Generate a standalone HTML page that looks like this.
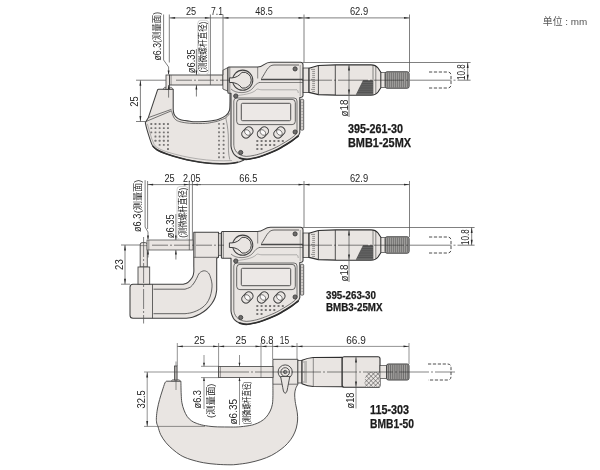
<!DOCTYPE html>
<html lang="zh"><head><meta charset="utf-8"><title>外形尺寸图</title>
<style>html,body{margin:0;padding:0;background:#fff;}svg{display:block;}</style></head>
<body>
<svg width="600" height="470" viewBox="0 0 600 470">
<rect width="600" height="470" fill="#fff"/>
<g opacity="0.999">
<text x="542.8" y="25.2" font-family='"Liberation Sans", "Noto Sans CJK SC", sans-serif' font-size="9.8" text-anchor="start" textLength="44.5" lengthAdjust="spacingAndGlyphs" fill="#555" >单位 : mm</text>
<path d="M158.6,89.3 L173.2,89.3 L173.2,109.5 C173.33,110.25 173.45,112.68 174.00,114.00 C174.55,115.32 175.50,116.48 176.50,117.40 C177.50,118.32 178.58,118.97 180.00,119.50 C181.42,120.03 183.33,120.30 185.00,120.60 C186.67,120.90 188.33,121.12 190.00,121.30 C191.67,121.48 192.50,121.65 195.00,121.70 C197.50,121.75 202.17,121.77 205.00,121.60 C207.83,121.43 209.72,121.10 212.00,120.70 C214.28,120.30 216.40,120.05 218.70,119.20 C221.00,118.35 224.02,117.05 225.80,115.60 C227.58,114.15 228.70,112.85 229.40,110.50 C230.10,108.15 229.90,103.00 230.00,101.50 L230,92.5 L233,92.5 L233,150 L244,160 C243.00,160.38 240.33,161.70 238.00,162.30 C235.67,162.90 233.00,163.37 230.00,163.60 C227.00,163.83 223.88,163.80 220.00,163.70 C216.12,163.60 211.15,163.45 206.70,163.00 C202.25,162.55 197.75,161.83 193.30,161.00 C188.85,160.17 184.43,159.17 180.00,158.00 C175.57,156.83 170.48,155.33 166.70,154.00 C162.92,152.67 159.63,151.33 157.30,150.00 C154.97,148.67 153.92,147.78 152.70,146.00 C151.48,144.22 151.00,142.18 150.00,139.30 C149.00,136.42 147.48,131.47 146.70,128.70 C145.92,125.93 145.53,123.70 145.30,122.70 L148.4,117.4 L157.4,90.3 Q157.8,89.3 158.6,89.3 Z" fill="#e9e5e2" stroke="#404040" stroke-width="1.05" stroke-linejoin="round" />
<path d="M238.00,162.30 C236.67,162.52 233.00,163.37 230.00,163.60 C227.00,163.83 223.88,163.80 220.00,163.70 C216.12,163.60 211.15,163.45 206.70,163.00 C202.25,162.55 197.75,161.83 193.30,161.00 C188.85,160.17 184.43,159.17 180.00,158.00 C175.57,156.83 170.48,155.33 166.70,154.00 C162.92,152.67 159.63,151.33 157.30,150.00 C154.97,148.67 153.47,146.67 152.70,146.00" fill="none" stroke="#333" stroke-width="1.5" stroke-linejoin="round" />
<path d="M148.4,117.6 L171.5,109.3" fill="none" stroke="#404040" stroke-width="0.7" stroke-linejoin="round" />
<path d="M146.2,121.4 L171.5,110.8 C171.72,111.50 172.30,113.72 172.80,115.00 C173.30,116.28 173.73,117.53 174.50,118.50 C175.27,119.47 175.98,120.15 177.40,120.80 C178.82,121.45 180.57,121.97 183.00,122.40 C185.43,122.83 188.27,123.23 192.00,123.40 C195.73,123.57 201.90,123.60 205.40,123.40 C208.90,123.20 210.78,122.63 213.00,122.20 C215.22,121.77 216.57,121.55 218.70,120.80 C220.83,120.05 223.98,118.92 225.80,117.70 C227.62,116.48 228.97,114.20 229.60,113.50" fill="none" stroke="#404040" stroke-width="0.7" stroke-linejoin="round" />
<path d="M147.3,123.8 L151.8,139 L154.3,144.8 C156,147.5 161,150 168,152.2 C185,157.5 210,162 232,160.5" fill="none" stroke="#777" stroke-width="0.5" stroke-linejoin="round" />
<polygon points="163,89.3 164.5,87.3 171.5,87.3 173,89.3" fill="#cfcbc8" stroke="#404040" stroke-width="0.6"/>
<rect x="150.35" y="123.05" width="1.9" height="1.9" rx="0.5" fill="#777574"/>
<rect x="150.35" y="127.22" width="1.9" height="1.9" rx="0.5" fill="#777574"/>
<rect x="150.35" y="131.39" width="1.9" height="1.9" rx="0.5" fill="#777574"/>
<rect x="154.52" y="123.05" width="1.9" height="1.9" rx="0.5" fill="#777574"/>
<rect x="154.52" y="127.22" width="1.9" height="1.9" rx="0.5" fill="#777574"/>
<rect x="154.52" y="131.39" width="1.9" height="1.9" rx="0.5" fill="#777574"/>
<rect x="154.52" y="135.56" width="1.9" height="1.9" rx="0.5" fill="#777574"/>
<rect x="154.52" y="139.73" width="1.9" height="1.9" rx="0.5" fill="#777574"/>
<rect x="158.69" y="123.05" width="1.9" height="1.9" rx="0.5" fill="#777574"/>
<rect x="158.69" y="127.22" width="1.9" height="1.9" rx="0.5" fill="#777574"/>
<rect x="158.69" y="131.39" width="1.9" height="1.9" rx="0.5" fill="#777574"/>
<rect x="158.69" y="135.56" width="1.9" height="1.9" rx="0.5" fill="#777574"/>
<rect x="158.69" y="139.73" width="1.9" height="1.9" rx="0.5" fill="#777574"/>
<rect x="158.69" y="143.90" width="1.9" height="1.9" rx="0.5" fill="#777574"/>
<rect x="162.86" y="123.05" width="1.9" height="1.9" rx="0.5" fill="#777574"/>
<rect x="162.86" y="127.22" width="1.9" height="1.9" rx="0.5" fill="#777574"/>
<rect x="162.86" y="131.39" width="1.9" height="1.9" rx="0.5" fill="#777574"/>
<rect x="162.86" y="135.56" width="1.9" height="1.9" rx="0.5" fill="#777574"/>
<rect x="162.86" y="139.73" width="1.9" height="1.9" rx="0.5" fill="#777574"/>
<rect x="162.86" y="143.90" width="1.9" height="1.9" rx="0.5" fill="#777574"/>
<rect x="167.03" y="123.05" width="1.9" height="1.9" rx="0.5" fill="#777574"/>
<rect x="167.03" y="127.22" width="1.9" height="1.9" rx="0.5" fill="#777574"/>
<rect x="167.03" y="131.39" width="1.9" height="1.9" rx="0.5" fill="#777574"/>
<rect x="167.03" y="135.56" width="1.9" height="1.9" rx="0.5" fill="#777574"/>
<rect x="167.03" y="139.73" width="1.9" height="1.9" rx="0.5" fill="#777574"/>
<rect x="167.03" y="143.90" width="1.9" height="1.9" rx="0.5" fill="#777574"/>
<rect x="167.03" y="148.07" width="1.9" height="1.9" rx="0.5" fill="#777574"/>
<rect x="218.10" y="123.00" width="1.8" height="1.8" rx="0.5" fill="#777574"/>
<rect x="222.70" y="123.00" width="1.8" height="1.8" rx="0.5" fill="#777574"/>
<rect x="218.10" y="127.17" width="1.8" height="1.8" rx="0.5" fill="#777574"/>
<rect x="222.70" y="127.17" width="1.8" height="1.8" rx="0.5" fill="#777574"/>
<rect x="218.10" y="131.34" width="1.8" height="1.8" rx="0.5" fill="#777574"/>
<rect x="222.70" y="131.34" width="1.8" height="1.8" rx="0.5" fill="#777574"/>
<rect x="218.10" y="135.51" width="1.8" height="1.8" rx="0.5" fill="#777574"/>
<rect x="222.70" y="135.51" width="1.8" height="1.8" rx="0.5" fill="#777574"/>
<rect x="218.10" y="139.68" width="1.8" height="1.8" rx="0.5" fill="#777574"/>
<rect x="222.70" y="139.68" width="1.8" height="1.8" rx="0.5" fill="#777574"/>
<rect x="218.10" y="143.85" width="1.8" height="1.8" rx="0.5" fill="#777574"/>
<rect x="222.70" y="143.85" width="1.8" height="1.8" rx="0.5" fill="#777574"/>
<rect x="218.10" y="148.02" width="1.8" height="1.8" rx="0.5" fill="#777574"/>
<rect x="222.70" y="148.02" width="1.8" height="1.8" rx="0.5" fill="#777574"/>
<rect x="218.10" y="152.19" width="1.8" height="1.8" rx="0.5" fill="#777574"/>
<rect x="222.70" y="152.19" width="1.8" height="1.8" rx="0.5" fill="#777574"/>
<rect x="218.10" y="156.36" width="1.8" height="1.8" rx="0.5" fill="#777574"/>
<rect x="222.70" y="156.36" width="1.8" height="1.8" rx="0.5" fill="#777574"/>
<path d="M225.8,118 C227.5,125 228.5,133 228.4,141 C228.3,148 228.3,154 229.8,159.6" fill="none" stroke="#666" stroke-width="0.6" stroke-linejoin="round" />
<rect x="166" y="75" width="3.5" height="14.5" rx="0" fill="#e9e5e2" stroke="#404040" stroke-width="0.8" />
<rect x="169.5" y="75" width="53.4" height="10" rx="0" fill="#e9e5e2" stroke="#404040" stroke-width="0.9" />
<line x1="171.1" y1="75" x2="171.1" y2="85" stroke="#404040" stroke-width="0.5"/>
<polygon points="222.9,70.2 227.9,67.6 227.9,91.2 222.9,89" fill="#e9e5e2" stroke="#404040" stroke-width="0.8"/>
<g transform="translate(0,0)">
<rect x="300.4" y="99.3" width="3.3" height="30.8" rx="1" fill="#d3cfcc" stroke="#404040" stroke-width="0.8" />
<line x1="301.2" y1="102.5" x2="303.2" y2="102.5" stroke="#777" stroke-width="0.4"/>
<line x1="301.2" y1="105.5" x2="303.2" y2="105.5" stroke="#777" stroke-width="0.4"/>
<line x1="301.2" y1="108.5" x2="303.2" y2="108.5" stroke="#777" stroke-width="0.4"/>
<line x1="301.2" y1="111.5" x2="303.2" y2="111.5" stroke="#777" stroke-width="0.4"/>
<line x1="301.2" y1="114.5" x2="303.2" y2="114.5" stroke="#777" stroke-width="0.4"/>
<line x1="301.2" y1="117.5" x2="303.2" y2="117.5" stroke="#777" stroke-width="0.4"/>
<line x1="301.2" y1="120.5" x2="303.2" y2="120.5" stroke="#777" stroke-width="0.4"/>
<line x1="301.2" y1="123.5" x2="303.2" y2="123.5" stroke="#777" stroke-width="0.4"/>
<line x1="301.2" y1="126.5" x2="303.2" y2="126.5" stroke="#777" stroke-width="0.4"/>
<path d="M227.9,68 Q227.9,67 228.9,67 L257.5,67 C264,67 264,62.2 270.5,62.2 L300.5,62.2 Q303,62.2 303,64.7 L303,95.5 Q303,97 301.5,97.2 L299.8,97.5 L299.8,132.5 C299.50,133.12 299.42,134.73 298.00,136.20 C296.58,137.67 293.83,139.57 291.30,141.30 C288.77,143.03 285.52,145.02 282.80,146.60 C280.08,148.18 278.25,149.32 275.00,150.80 C271.75,152.28 266.67,154.30 263.30,155.50 C259.93,156.70 257.63,157.37 254.80,158.00 C251.97,158.63 248.85,159.30 246.30,159.30 C243.75,159.30 241.48,158.77 239.50,158.00 C237.52,157.23 235.68,156.10 234.40,154.70 C233.12,153.30 232.37,151.05 231.80,149.60 C231.23,148.15 231.13,146.60 231.00,146.00 L231,93.3 L228.9,93.3 Q227.9,93.3 227.9,92.3 Z" fill="#e9e5e2" stroke="#404040" stroke-width="1.1" stroke-linejoin="round" />
<path d="M239.50,158.00 C240.63,158.22 243.75,159.30 246.30,159.30 C248.85,159.30 251.97,158.63 254.80,158.00 C257.63,157.37 259.93,156.70 263.30,155.50 C266.67,154.30 271.75,152.28 275.00,150.80 C278.25,149.32 280.08,148.18 282.80,146.60 C285.52,145.02 288.77,143.03 291.30,141.30 C293.83,139.57 296.88,137.05 298.00,136.20" fill="none" stroke="#2e2e2e" stroke-width="1.7" stroke-linejoin="round" stroke-linecap="round"/>
<line x1="229.8" y1="67" x2="229.8" y2="93.3" stroke="#404040" stroke-width="0.6"/>
<line x1="300.2" y1="65" x2="300.2" y2="96" stroke="#666" stroke-width="0.5"/>
<line x1="257.7" y1="67" x2="257.7" y2="78.5" stroke="#404040" stroke-width="0.6"/>
<path d="M299,65 L274,65 C268,65 266,72 261.5,78.6" fill="none" stroke="#404040" stroke-width="0.8" stroke-linejoin="round" />
<line x1="261" y1="79.5" x2="303" y2="79.5" stroke="#4a4a4a" stroke-width="1.5"/>
<line x1="259.5" y1="82.5" x2="303" y2="82.5" stroke="#404040" stroke-width="0.6"/>
<path d="M231,89 C236,94 248,94 253,88 C255,85 257,83 260,82.3" fill="none" stroke="#404040" stroke-width="0.6" stroke-linejoin="round" />
<path d="M233,96 C242,95 252,94 256,90 C258,88 258,89.8 262,89.8 L297,89.8 Q298,90 298.3,93" fill="none" stroke="#777" stroke-width="0.5" stroke-linejoin="round" />
<circle cx="242.7" cy="80.2" r="10.1" fill="#e9e5e2" stroke="#404040" stroke-width="1.05"/>
<path d="M229.4,77.9 L232,77.9 Q238.2,77.4 241.9,72.32 A8,8 0 1 1 241.9,88.08 Q238.2,83 232,82.5 L229.4,82.5 Z" fill="#e9e5e2" stroke="#404040" stroke-width="1.0" stroke-linejoin="round" />
<path d="M297,131.5 L297,101 Q297,98 294,98 L236.8,98 Q233.8,98 233.8,101 L233.8,145 C233.92,145.58 234.02,147.28 234.50,148.50 C234.98,149.72 235.67,151.22 236.70,152.30 C237.73,153.38 239.12,154.32 240.70,155.00 C242.28,155.68 243.93,156.35 246.20,156.40 C248.47,156.45 251.58,155.88 254.30,155.30 C257.02,154.72 259.22,154.07 262.50,152.90 C265.78,151.73 270.83,149.73 274.00,148.30 C277.17,146.87 278.87,145.82 281.50,144.30 C284.13,142.78 287.45,140.82 289.80,139.20 C292.15,137.58 294.40,135.88 295.60,134.60 C296.80,133.32 296.77,132.02 297.00,131.50" fill="none" stroke="#404040" stroke-width="0.7" stroke-linejoin="round" />
<rect x="236.7" y="99.4" width="58.6" height="25.2" rx="3.2" fill="#e9e5e2" stroke="#404040" stroke-width="0.8" />
<rect x="241.3" y="103.3" width="49.4" height="17.4" rx="1.3" fill="#ece8e6" stroke="#404040" stroke-width="0.9" />
<line x1="246.00" y1="133.9" x2="248.80" y2="131.1" stroke="#404040" stroke-width="9.2" stroke-linecap="round"/>
<line x1="246.00" y1="133.9" x2="248.80" y2="131.1" stroke="#e9e5e2" stroke-width="7.7" stroke-linecap="round"/>
<circle cx="247.4" cy="132.5" r="2.3" fill="#fbfafa"/>
<circle cx="246.0" cy="133.9" r="4.25" fill="none" stroke="#4a4a4a" stroke-width="0.7"/>
<circle cx="248.8" cy="131.1" r="4.25" fill="none" stroke="#4a4a4a" stroke-width="0.7"/>
<line x1="261.50" y1="133.9" x2="264.30" y2="131.1" stroke="#404040" stroke-width="9.2" stroke-linecap="round"/>
<line x1="261.50" y1="133.9" x2="264.30" y2="131.1" stroke="#e9e5e2" stroke-width="7.7" stroke-linecap="round"/>
<circle cx="262.9" cy="132.5" r="2.3" fill="#fbfafa"/>
<circle cx="261.5" cy="133.9" r="4.25" fill="none" stroke="#4a4a4a" stroke-width="0.7"/>
<circle cx="264.29999999999995" cy="131.1" r="4.25" fill="none" stroke="#4a4a4a" stroke-width="0.7"/>
<line x1="278.00" y1="133.9" x2="280.80" y2="131.1" stroke="#404040" stroke-width="9.2" stroke-linecap="round"/>
<line x1="278.00" y1="133.9" x2="280.80" y2="131.1" stroke="#e9e5e2" stroke-width="7.7" stroke-linecap="round"/>
<circle cx="279.4" cy="132.5" r="2.3" fill="#fbfafa"/>
<circle cx="278.0" cy="133.9" r="4.25" fill="none" stroke="#4a4a4a" stroke-width="0.7"/>
<circle cx="280.79999999999995" cy="131.1" r="4.25" fill="none" stroke="#4a4a4a" stroke-width="0.7"/>
<rect x="256.3" y="139.9" width="2" height="2" rx="0.5" fill="#777574"/>
<rect x="260.55" y="139.9" width="2" height="2" rx="0.5" fill="#777574"/>
<rect x="264.8" y="139.9" width="2" height="2" rx="0.5" fill="#777574"/>
<rect x="269.05" y="139.9" width="2" height="2" rx="0.5" fill="#777574"/>
<rect x="273.3" y="139.9" width="2" height="2" rx="0.5" fill="#777574"/>
<rect x="277.55" y="139.9" width="2" height="2" rx="0.5" fill="#777574"/>
<rect x="281.8" y="139.9" width="2" height="2" rx="0.5" fill="#777574"/>
<rect x="256.3" y="143.9" width="2" height="2" rx="0.5" fill="#777574"/>
<rect x="260.55" y="143.9" width="2" height="2" rx="0.5" fill="#777574"/>
<rect x="264.8" y="143.9" width="2" height="2" rx="0.5" fill="#777574"/>
<rect x="269.05" y="143.9" width="2" height="2" rx="0.5" fill="#777574"/>
<rect x="273.3" y="143.9" width="2" height="2" rx="0.5" fill="#777574"/>
<rect x="256.3" y="147.9" width="2" height="2" rx="0.5" fill="#777574"/>
<rect x="260.55" y="147.9" width="2" height="2" rx="0.5" fill="#777574"/>
<circle cx="295.1" cy="68.9" r="2.1" fill="#6e6c6b" stroke="#333" stroke-width="0.8"/>
<circle cx="235.8" cy="96" r="2.1" fill="#6e6c6b" stroke="#333" stroke-width="0.8"/>
<circle cx="295.1" cy="132" r="2.1" fill="#6e6c6b" stroke="#333" stroke-width="0.8"/>
<circle cx="240.7" cy="152.5" r="2.1" fill="#6e6c6b" stroke="#333" stroke-width="0.8"/>
</g>
<g transform="translate(0,0)">
<rect x="303.2" y="68" width="5.8" height="24.6" rx="0" fill="#e9e5e2" stroke="#404040" stroke-width="0.8" />
<path d="M309,68.2 L318.4,65.5 L336,64.9 L371,64.8 C375,64.8 376.5,66 378,68 L381,72.5 L381,87.5 L378,92 C376.5,94 375,95.2 371,95.2 L336,95.1 L318.4,94.6 L309,92.4 Z" fill="#e9e5e2" stroke="#2e2e2e" stroke-width="1.15" stroke-linejoin="round" />
<line x1="318.4" y1="65.5" x2="318.4" y2="94.6" stroke="#404040" stroke-width="0.9"/>
<line x1="335.3" y1="65" x2="335.3" y2="95" stroke="#404040" stroke-width="0.9"/>
<line x1="373" y1="65.2" x2="373" y2="94.8" stroke="#404040" stroke-width="0.6"/>
<line x1="375.8" y1="66" x2="375.8" y2="94" stroke="#404040" stroke-width="0.6"/>
<line x1="311" y1="69.4" x2="315" y2="69.4" stroke="#555" stroke-width="0.6"/>
<line x1="312.2" y1="71.4" x2="315" y2="71.4" stroke="#555" stroke-width="0.6"/>
<line x1="312.2" y1="73.4" x2="315" y2="73.4" stroke="#555" stroke-width="0.6"/>
<line x1="312.2" y1="75.4" x2="315" y2="75.4" stroke="#555" stroke-width="0.6"/>
<line x1="312.2" y1="77.4" x2="315" y2="77.4" stroke="#555" stroke-width="0.6"/>
<line x1="311" y1="79.4" x2="315" y2="79.4" stroke="#555" stroke-width="0.6"/>
<line x1="312.2" y1="81.4" x2="315" y2="81.4" stroke="#555" stroke-width="0.6"/>
<line x1="312.2" y1="83.4" x2="315" y2="83.4" stroke="#555" stroke-width="0.6"/>
<line x1="312.2" y1="85.4" x2="315" y2="85.4" stroke="#555" stroke-width="0.6"/>
<line x1="312.2" y1="87.4" x2="315" y2="87.4" stroke="#555" stroke-width="0.6"/>
<line x1="311" y1="89.4" x2="315" y2="89.4" stroke="#555" stroke-width="0.6"/>
<line x1="312.2" y1="91.4" x2="315" y2="91.4" stroke="#555" stroke-width="0.6"/>
<polygon points="355.8,94.8 363,80.3 373,80.3 373,94.8" fill="#4a4a4a"/>
<line x1="362.0" y1="82.3" x2="373" y2="82.3" stroke="#9a9a9a" stroke-width="0.45"/>
<line x1="361.05" y1="84.2" x2="373" y2="84.2" stroke="#9a9a9a" stroke-width="0.45"/>
<line x1="360.1" y1="86.1" x2="373" y2="86.1" stroke="#9a9a9a" stroke-width="0.45"/>
<line x1="359.15" y1="88.0" x2="373" y2="88.0" stroke="#9a9a9a" stroke-width="0.45"/>
<line x1="358.2" y1="89.89999999999999" x2="373" y2="89.89999999999999" stroke="#9a9a9a" stroke-width="0.45"/>
<line x1="357.25" y1="91.8" x2="373" y2="91.8" stroke="#9a9a9a" stroke-width="0.45"/>
<line x1="356.3" y1="93.69999999999999" x2="373" y2="93.69999999999999" stroke="#9a9a9a" stroke-width="0.45"/>
<rect x="381" y="72.6" width="4.2" height="14.8" rx="0" fill="#e9e5e2" stroke="#404040" stroke-width="0.7" />
<rect x="385.2" y="71.8" width="23.9" height="16.4" rx="1.8" fill="#aaa8a6" stroke="#404040" stroke-width="1.0" />
<line x1="387.3" y1="72.5" x2="387.3" y2="87.5" stroke="#5a5a5a" stroke-width="0.75"/>
<line x1="389.3" y1="72.5" x2="389.3" y2="87.5" stroke="#5a5a5a" stroke-width="0.75"/>
<line x1="391.3" y1="72.5" x2="391.3" y2="87.5" stroke="#5a5a5a" stroke-width="0.75"/>
<line x1="393.3" y1="72.5" x2="393.3" y2="87.5" stroke="#5a5a5a" stroke-width="0.75"/>
<line x1="395.3" y1="72.5" x2="395.3" y2="87.5" stroke="#5a5a5a" stroke-width="0.75"/>
<line x1="397.3" y1="72.5" x2="397.3" y2="87.5" stroke="#5a5a5a" stroke-width="0.75"/>
<line x1="399.3" y1="72.5" x2="399.3" y2="87.5" stroke="#5a5a5a" stroke-width="0.75"/>
<line x1="401.3" y1="72.5" x2="401.3" y2="87.5" stroke="#5a5a5a" stroke-width="0.75"/>
<line x1="403.3" y1="72.5" x2="403.3" y2="87.5" stroke="#5a5a5a" stroke-width="0.75"/>
<line x1="405.3" y1="72.5" x2="405.3" y2="87.5" stroke="#5a5a5a" stroke-width="0.75"/>
<line x1="407.3" y1="72.5" x2="407.3" y2="87.5" stroke="#5a5a5a" stroke-width="0.75"/>
</g>
<g transform="translate(0,0)">
<line x1="303" y1="62.5" x2="470.6" y2="62.5" stroke="#555" stroke-width="0.75"/>
<line x1="409.5" y1="80.2" x2="470.6" y2="80.2" stroke="#3a3a3a" stroke-width="0.65" stroke-dasharray="42 2 2 2 100 0"/>
<path d="M429,72 L447.5,72 Q451,72 451,75.5 L451,84.5 Q451,88 447.5,88 L429,88" fill="none" stroke="#383838" stroke-width="0.9" stroke-linejoin="round" stroke-dasharray="3.2 1.7"/>
<line x1="467.7" y1="62.5" x2="467.7" y2="80.2" stroke="#555" stroke-width="0.75"/>
<polygon points="467.70,62.50 466.75,68.00 468.65,68.00" fill="#2a2a2a"/>
<polygon points="467.70,80.20 466.75,74.70 468.65,74.70" fill="#2a2a2a"/>
<text transform="translate(465,72.2) rotate(-90)" font-family='"Liberation Sans", "Noto Sans CJK SC", sans-serif' font-size="11.2" text-anchor="middle" textLength="15.6" lengthAdjust="spacingAndGlyphs" fill="#262626" >10.8</text>
<line x1="349" y1="65" x2="349" y2="117" stroke="#555" stroke-width="0.75"/>
<polygon points="349.00,65.00 348.05,70.50 349.95,70.50" fill="#2a2a2a"/>
<polygon points="349.00,95.00 348.05,89.50 349.95,89.50" fill="#2a2a2a"/>
<text transform="translate(347.6,108) rotate(-90)" font-family='"Liberation Sans", "Noto Sans CJK SC", sans-serif' font-size="11.2" text-anchor="middle" textLength="17" lengthAdjust="spacingAndGlyphs" fill="#262626" >ø18</text>
</g>
<line x1="176" y1="80.2" x2="230" y2="80.2" stroke="#333" stroke-width="0.6" stroke-dasharray="16 2 2 2"/>
<line x1="302" y1="80.2" x2="410" y2="80.2" stroke="#333" stroke-width="0.6" stroke-dasharray="30 2 2 2"/>
<line x1="210.4" y1="14.5" x2="210.4" y2="85" stroke="#555" stroke-width="0.75"/>
<line x1="223" y1="14.5" x2="223" y2="75" stroke="#555" stroke-width="0.75"/>
<line x1="304" y1="14.5" x2="304" y2="62" stroke="#555" stroke-width="0.75"/>
<line x1="409.5" y1="14.5" x2="409.5" y2="72" stroke="#555" stroke-width="0.75"/>
<path d="M163.6,14.5 L163.6,60 L168.6,67 L168.6,74" fill="none" stroke="#555" stroke-width="0.75" stroke-linejoin="round" />
<polygon points="168.60,75.00 167.65,70.50 169.55,70.50" fill="#2a2a2a"/>
<line x1="169.3" y1="14.5" x2="169.3" y2="62.5" stroke="#555" stroke-width="0.75"/>
<line x1="168.6" y1="85" x2="168.6" y2="97.6" stroke="#555" stroke-width="0.75"/>
<polygon points="168.60,85.00 167.65,89.50 169.55,89.50" fill="#2a2a2a"/>
<line x1="169.6" y1="17.9" x2="210.4" y2="17.9" stroke="#555" stroke-width="0.75"/>
<polygon points="169.60,17.90 175.10,16.95 175.10,18.85" fill="#2a2a2a"/>
<polygon points="210.40,17.90 204.90,16.95 204.90,18.85" fill="#2a2a2a"/>
<line x1="223" y1="17.9" x2="304" y2="17.9" stroke="#555" stroke-width="0.75"/>
<polygon points="223.00,17.90 228.50,16.95 228.50,18.85" fill="#2a2a2a"/>
<polygon points="304.00,17.90 298.50,16.95 298.50,18.85" fill="#2a2a2a"/>
<line x1="304" y1="17.9" x2="409.5" y2="17.9" stroke="#555" stroke-width="0.75"/>
<polygon points="304.00,17.90 309.50,16.95 309.50,18.85" fill="#2a2a2a"/>
<polygon points="409.50,17.90 404.00,16.95 404.00,18.85" fill="#2a2a2a"/>
<line x1="210.4" y1="17.9" x2="223" y2="17.9" stroke="#555" stroke-width="0.75"/>
<text x="191" y="15.2" font-family='"Liberation Sans", "Noto Sans CJK SC", sans-serif' font-size="11.2" text-anchor="middle" textLength="10.2" lengthAdjust="spacingAndGlyphs" fill="#262626" >25</text>
<text x="217" y="15.2" font-family='"Liberation Sans", "Noto Sans CJK SC", sans-serif' font-size="11.2" text-anchor="middle" textLength="12" lengthAdjust="spacingAndGlyphs" fill="#262626" >7.1</text>
<text x="264" y="15.2" font-family='"Liberation Sans", "Noto Sans CJK SC", sans-serif' font-size="11.2" text-anchor="middle" textLength="17.6" lengthAdjust="spacingAndGlyphs" fill="#262626" >48.5</text>
<text x="359" y="15.2" font-family='"Liberation Sans", "Noto Sans CJK SC", sans-serif' font-size="11.2" text-anchor="middle" textLength="18.2" lengthAdjust="spacingAndGlyphs" fill="#262626" >62.9</text>
<text transform="translate(161.2,60.5) rotate(-90)" font-family='"Liberation Sans", "Noto Sans CJK SC", sans-serif' font-size="11.2" text-anchor="start" textLength="17.5" lengthAdjust="spacingAndGlyphs" fill="#262626" >ø6.3</text>
<text transform="translate(160.2,43) rotate(-90)" font-family='"Liberation Sans", "Noto Sans CJK SC", sans-serif' font-size="8.8" text-anchor="start" textLength="31" lengthAdjust="spacingAndGlyphs" fill="#262626" >(测量面)</text>
<text transform="translate(195.2,73.3) rotate(-90)" font-family='"Liberation Sans", "Noto Sans CJK SC", sans-serif' font-size="11.2" text-anchor="start" textLength="24" lengthAdjust="spacingAndGlyphs" fill="#262626" >ø6.35</text>
<line x1="196.4" y1="49" x2="196.4" y2="75" stroke="#555" stroke-width="0.75"/>
<polygon points="196.40,75.00 195.45,70.50 197.35,70.50" fill="#2a2a2a"/>
<line x1="196.4" y1="85" x2="196.4" y2="96.5" stroke="#555" stroke-width="0.75"/>
<polygon points="196.40,85.00 195.45,89.50 197.35,89.50" fill="#2a2a2a"/>
<rect x="197.8" y="20.3" width="10.8" height="54" rx="3" fill="#fff" stroke="#aaa" stroke-width="0.5" />
<text transform="translate(206.2,72.6) rotate(-90)" font-family='"Liberation Sans", "Noto Sans CJK SC", sans-serif' font-size="9" text-anchor="start" textLength="51" lengthAdjust="spacingAndGlyphs" fill="#262626" >(测微螺杆直径)</text>
<line x1="136" y1="80.2" x2="166" y2="80.2" stroke="#555" stroke-width="0.75"/>
<line x1="136" y1="121.5" x2="146" y2="121.5" stroke="#555" stroke-width="0.75"/>
<line x1="140.4" y1="80.2" x2="140.4" y2="121.5" stroke="#555" stroke-width="0.75"/>
<polygon points="140.40,80.20 139.45,85.70 141.35,85.70" fill="#2a2a2a"/>
<polygon points="140.40,121.50 139.45,116.00 141.35,116.00" fill="#2a2a2a"/>
<text transform="translate(138.1,101.6) rotate(-90)" font-family='"Liberation Sans", "Noto Sans CJK SC", sans-serif' font-size="11.2" text-anchor="middle" textLength="10.4" lengthAdjust="spacingAndGlyphs" fill="#262626" >25</text>
<text x="348" y="133.2" font-family='"Liberation Sans", "Noto Sans CJK SC", sans-serif' font-size="12" text-anchor="start" font-weight="bold" textLength="55" lengthAdjust="spacingAndGlyphs" fill="#1a1a1a" stroke="#1a1a1a" stroke-width="0.25">395-261-30</text>
<text x="348" y="146.5" font-family='"Liberation Sans", "Noto Sans CJK SC", sans-serif' font-size="12" text-anchor="start" font-weight="bold" textLength="63" lengthAdjust="spacingAndGlyphs" fill="#1a1a1a" stroke="#1a1a1a" stroke-width="0.25">BMB1-25MX</text>
<path d="M193.8,232.3 L218.5,232.3 L218.5,257.3 L216.7,258.3 L216.7,290 C216.47,291.17 216.13,294.70 215.30,297.00 C214.47,299.30 213.17,301.72 211.70,303.80 C210.23,305.88 208.45,307.80 206.50,309.50 C204.55,311.20 202.33,312.72 200.00,314.00 C197.67,315.28 195.00,316.48 192.50,317.20 C190.00,317.92 186.25,318.12 185.00,318.30 L133,318.3 Q130,318.3 130,315.3 L130,287.2 Q130,284.2 133,284.2 L183.3,284.2 C183.92,284.00 185.88,283.65 187.00,283.00 C188.12,282.35 189.07,281.33 190.00,280.30 C190.93,279.27 191.97,278.18 192.60,276.80 C193.23,275.42 193.60,273.80 193.80,272.00 C194.00,270.20 193.80,267.00 193.80,266.00 Z" fill="#e9e5e2" stroke="#404040" stroke-width="1.05" stroke-linejoin="round" />
<path d="M153.5,289.2 L185,289.2 C185.92,288.83 189.00,288.03 190.50,287.00 C192.00,285.97 192.97,284.45 194.00,283.00 C195.03,281.55 195.78,279.97 196.70,278.30 C197.62,276.63 198.25,274.25 199.50,273.00 C200.75,271.75 202.70,270.80 204.20,270.80 C205.70,270.80 207.40,271.75 208.50,273.00 C209.60,274.25 210.22,276.47 210.80,278.30 C211.38,280.13 211.85,282.05 212.00,284.00 C212.15,285.95 212.03,287.83 211.70,290.00 C211.37,292.17 210.83,294.78 210.00,297.00 C209.17,299.22 208.03,301.50 206.70,303.30 C205.37,305.10 203.67,306.55 202.00,307.80 C200.33,309.05 198.53,309.97 196.70,310.80 C194.87,311.63 192.95,312.32 191.00,312.80 C189.05,313.28 186.00,313.55 185.00,313.70 L153.5,313.7" fill="none" stroke="#404040" stroke-width="0.8" stroke-linejoin="round" />
<line x1="152.5" y1="284.2" x2="152.5" y2="318.3" stroke="#404040" stroke-width="0.8"/>
<line x1="193.8" y1="257.3" x2="218.5" y2="257.3" stroke="#404040" stroke-width="0.7"/>
<line x1="195.2" y1="232.3" x2="195.2" y2="257.3" stroke="#404040" stroke-width="0.5"/>
<path d="M140.2,267 L140.2,244.6 Q140.2,242.6 142.2,242.6 L145.3,242.6 Q147.3,242.6 147.3,244.6 L147.3,267 Z" fill="#e9e5e2" stroke="#404040" stroke-width="0.85" stroke-linejoin="round" />
<line x1="140.2" y1="245.6" x2="147.3" y2="245.6" stroke="#404040" stroke-width="0.5"/>
<rect x="138" y="267" width="11.7" height="17.2" rx="0" fill="#e9e5e2" stroke="#404040" stroke-width="0.85" />
<line x1="143.6" y1="237" x2="143.6" y2="323.5" stroke="#555" stroke-width="0.75" stroke-dasharray="20 2 2 2"/>
<rect x="147" y="240" width="46" height="10" rx="0" fill="#e9e5e2" stroke="#404040" stroke-width="0.7" />
<line x1="148.8" y1="240" x2="148.8" y2="250" stroke="#404040" stroke-width="0.5"/>
<rect x="218.4" y="233.3" width="3.2" height="22" rx="0" fill="#d5d1ce" stroke="#404040" stroke-width="0.7" />
<g transform="translate(0,165)">
<rect x="300.4" y="99.3" width="3.3" height="30.8" rx="1" fill="#d3cfcc" stroke="#404040" stroke-width="0.8" />
<line x1="301.2" y1="102.5" x2="303.2" y2="102.5" stroke="#777" stroke-width="0.4"/>
<line x1="301.2" y1="105.5" x2="303.2" y2="105.5" stroke="#777" stroke-width="0.4"/>
<line x1="301.2" y1="108.5" x2="303.2" y2="108.5" stroke="#777" stroke-width="0.4"/>
<line x1="301.2" y1="111.5" x2="303.2" y2="111.5" stroke="#777" stroke-width="0.4"/>
<line x1="301.2" y1="114.5" x2="303.2" y2="114.5" stroke="#777" stroke-width="0.4"/>
<line x1="301.2" y1="117.5" x2="303.2" y2="117.5" stroke="#777" stroke-width="0.4"/>
<line x1="301.2" y1="120.5" x2="303.2" y2="120.5" stroke="#777" stroke-width="0.4"/>
<line x1="301.2" y1="123.5" x2="303.2" y2="123.5" stroke="#777" stroke-width="0.4"/>
<line x1="301.2" y1="126.5" x2="303.2" y2="126.5" stroke="#777" stroke-width="0.4"/>
<path d="M221.4,67.5 Q221.4,66.5 222.4,66.5 L257.5,66.5 C264,66.5 264,62.2 270.5,62.2 L300.5,62.2 Q303,62.2 303,64.7 L303,95.5 Q303,97 301.5,97.2 L299.8,97.5 L299.8,132.5 C299.50,133.12 299.42,134.73 298.00,136.20 C296.58,137.67 293.83,139.57 291.30,141.30 C288.77,143.03 285.52,145.02 282.80,146.60 C280.08,148.18 278.25,149.32 275.00,150.80 C271.75,152.28 266.67,154.30 263.30,155.50 C259.93,156.70 257.63,157.37 254.80,158.00 C251.97,158.63 248.85,159.30 246.30,159.30 C243.75,159.30 241.48,158.77 239.50,158.00 C237.52,157.23 235.68,156.10 234.40,154.70 C233.12,153.30 232.37,151.05 231.80,149.60 C231.23,148.15 231.13,146.60 231.00,146.00 L231,93.3 L222.4,93.3 Q221.4,93.3 221.4,92.3 Z" fill="#e9e5e2" stroke="#404040" stroke-width="1.1" stroke-linejoin="round" />
<path d="M239.50,158.00 C240.63,158.22 243.75,159.30 246.30,159.30 C248.85,159.30 251.97,158.63 254.80,158.00 C257.63,157.37 259.93,156.70 263.30,155.50 C266.67,154.30 271.75,152.28 275.00,150.80 C278.25,149.32 280.08,148.18 282.80,146.60 C285.52,145.02 288.77,143.03 291.30,141.30 C293.83,139.57 296.88,137.05 298.00,136.20" fill="none" stroke="#2e2e2e" stroke-width="1.7" stroke-linejoin="round" stroke-linecap="round"/>
<line x1="223.3" y1="66.5" x2="223.3" y2="93.3" stroke="#404040" stroke-width="0.6"/>
<line x1="300.2" y1="65" x2="300.2" y2="96" stroke="#666" stroke-width="0.5"/>
<line x1="257.7" y1="66.5" x2="257.7" y2="78.5" stroke="#404040" stroke-width="0.6"/>
<path d="M299,65 L274,65 C268,65 266,72 261.5,78.6" fill="none" stroke="#404040" stroke-width="0.8" stroke-linejoin="round" />
<line x1="261" y1="79.5" x2="303" y2="79.5" stroke="#4a4a4a" stroke-width="1.5"/>
<line x1="259.5" y1="82.5" x2="303" y2="82.5" stroke="#404040" stroke-width="0.6"/>
<path d="M231,89 C236,94 248,94 253,88 C255,85 257,83 260,82.3" fill="none" stroke="#404040" stroke-width="0.6" stroke-linejoin="round" />
<path d="M233,96 C242,95 252,94 256,90 C258,88 258,89.8 262,89.8 L297,89.8 Q298,90 298.3,93" fill="none" stroke="#777" stroke-width="0.5" stroke-linejoin="round" />
<circle cx="242.7" cy="80.2" r="10.1" fill="#e9e5e2" stroke="#404040" stroke-width="1.05"/>
<path d="M229.4,77.9 L232,77.9 Q238.2,77.4 241.9,72.32 A8,8 0 1 1 241.9,88.08 Q238.2,83 232,82.5 L229.4,82.5 Z" fill="#e9e5e2" stroke="#404040" stroke-width="1.0" stroke-linejoin="round" />
<path d="M297,131.5 L297,101 Q297,98 294,98 L236.8,98 Q233.8,98 233.8,101 L233.8,145 C233.92,145.58 234.02,147.28 234.50,148.50 C234.98,149.72 235.67,151.22 236.70,152.30 C237.73,153.38 239.12,154.32 240.70,155.00 C242.28,155.68 243.93,156.35 246.20,156.40 C248.47,156.45 251.58,155.88 254.30,155.30 C257.02,154.72 259.22,154.07 262.50,152.90 C265.78,151.73 270.83,149.73 274.00,148.30 C277.17,146.87 278.87,145.82 281.50,144.30 C284.13,142.78 287.45,140.82 289.80,139.20 C292.15,137.58 294.40,135.88 295.60,134.60 C296.80,133.32 296.77,132.02 297.00,131.50" fill="none" stroke="#404040" stroke-width="0.7" stroke-linejoin="round" />
<rect x="236.7" y="99.4" width="58.6" height="25.2" rx="3.2" fill="#e9e5e2" stroke="#404040" stroke-width="0.8" />
<rect x="241.3" y="103.3" width="49.4" height="17.4" rx="1.3" fill="#ece8e6" stroke="#404040" stroke-width="0.9" />
<line x1="246.00" y1="133.9" x2="248.80" y2="131.1" stroke="#404040" stroke-width="9.2" stroke-linecap="round"/>
<line x1="246.00" y1="133.9" x2="248.80" y2="131.1" stroke="#e9e5e2" stroke-width="7.7" stroke-linecap="round"/>
<circle cx="247.4" cy="132.5" r="2.3" fill="#fbfafa"/>
<circle cx="246.0" cy="133.9" r="4.25" fill="none" stroke="#4a4a4a" stroke-width="0.7"/>
<circle cx="248.8" cy="131.1" r="4.25" fill="none" stroke="#4a4a4a" stroke-width="0.7"/>
<line x1="261.50" y1="133.9" x2="264.30" y2="131.1" stroke="#404040" stroke-width="9.2" stroke-linecap="round"/>
<line x1="261.50" y1="133.9" x2="264.30" y2="131.1" stroke="#e9e5e2" stroke-width="7.7" stroke-linecap="round"/>
<circle cx="262.9" cy="132.5" r="2.3" fill="#fbfafa"/>
<circle cx="261.5" cy="133.9" r="4.25" fill="none" stroke="#4a4a4a" stroke-width="0.7"/>
<circle cx="264.29999999999995" cy="131.1" r="4.25" fill="none" stroke="#4a4a4a" stroke-width="0.7"/>
<line x1="278.00" y1="133.9" x2="280.80" y2="131.1" stroke="#404040" stroke-width="9.2" stroke-linecap="round"/>
<line x1="278.00" y1="133.9" x2="280.80" y2="131.1" stroke="#e9e5e2" stroke-width="7.7" stroke-linecap="round"/>
<circle cx="279.4" cy="132.5" r="2.3" fill="#fbfafa"/>
<circle cx="278.0" cy="133.9" r="4.25" fill="none" stroke="#4a4a4a" stroke-width="0.7"/>
<circle cx="280.79999999999995" cy="131.1" r="4.25" fill="none" stroke="#4a4a4a" stroke-width="0.7"/>
<rect x="256.3" y="139.9" width="2" height="2" rx="0.5" fill="#777574"/>
<rect x="260.55" y="139.9" width="2" height="2" rx="0.5" fill="#777574"/>
<rect x="264.8" y="139.9" width="2" height="2" rx="0.5" fill="#777574"/>
<rect x="269.05" y="139.9" width="2" height="2" rx="0.5" fill="#777574"/>
<rect x="273.3" y="139.9" width="2" height="2" rx="0.5" fill="#777574"/>
<rect x="277.55" y="139.9" width="2" height="2" rx="0.5" fill="#777574"/>
<rect x="281.8" y="139.9" width="2" height="2" rx="0.5" fill="#777574"/>
<rect x="256.3" y="143.9" width="2" height="2" rx="0.5" fill="#777574"/>
<rect x="260.55" y="143.9" width="2" height="2" rx="0.5" fill="#777574"/>
<rect x="264.8" y="143.9" width="2" height="2" rx="0.5" fill="#777574"/>
<rect x="269.05" y="143.9" width="2" height="2" rx="0.5" fill="#777574"/>
<rect x="273.3" y="143.9" width="2" height="2" rx="0.5" fill="#777574"/>
<rect x="256.3" y="147.9" width="2" height="2" rx="0.5" fill="#777574"/>
<rect x="260.55" y="147.9" width="2" height="2" rx="0.5" fill="#777574"/>
<circle cx="295.1" cy="68.9" r="2.1" fill="#6e6c6b" stroke="#333" stroke-width="0.8"/>
<circle cx="235.8" cy="96" r="2.1" fill="#6e6c6b" stroke="#333" stroke-width="0.8"/>
<circle cx="295.1" cy="132" r="2.1" fill="#6e6c6b" stroke="#333" stroke-width="0.8"/>
<circle cx="240.7" cy="152.5" r="2.1" fill="#6e6c6b" stroke="#333" stroke-width="0.8"/>
</g>
<g transform="translate(0,165)">
<rect x="303.2" y="68" width="5.8" height="24.6" rx="0" fill="#e9e5e2" stroke="#404040" stroke-width="0.8" />
<path d="M309,68.2 L318.4,65.5 L336,64.9 L371,64.8 C375,64.8 376.5,66 378,68 L381,72.5 L381,87.5 L378,92 C376.5,94 375,95.2 371,95.2 L336,95.1 L318.4,94.6 L309,92.4 Z" fill="#e9e5e2" stroke="#2e2e2e" stroke-width="1.15" stroke-linejoin="round" />
<line x1="318.4" y1="65.5" x2="318.4" y2="94.6" stroke="#404040" stroke-width="0.9"/>
<line x1="335.3" y1="65" x2="335.3" y2="95" stroke="#404040" stroke-width="0.9"/>
<line x1="373" y1="65.2" x2="373" y2="94.8" stroke="#404040" stroke-width="0.6"/>
<line x1="375.8" y1="66" x2="375.8" y2="94" stroke="#404040" stroke-width="0.6"/>
<line x1="311" y1="69.4" x2="315" y2="69.4" stroke="#555" stroke-width="0.6"/>
<line x1="312.2" y1="71.4" x2="315" y2="71.4" stroke="#555" stroke-width="0.6"/>
<line x1="312.2" y1="73.4" x2="315" y2="73.4" stroke="#555" stroke-width="0.6"/>
<line x1="312.2" y1="75.4" x2="315" y2="75.4" stroke="#555" stroke-width="0.6"/>
<line x1="312.2" y1="77.4" x2="315" y2="77.4" stroke="#555" stroke-width="0.6"/>
<line x1="311" y1="79.4" x2="315" y2="79.4" stroke="#555" stroke-width="0.6"/>
<line x1="312.2" y1="81.4" x2="315" y2="81.4" stroke="#555" stroke-width="0.6"/>
<line x1="312.2" y1="83.4" x2="315" y2="83.4" stroke="#555" stroke-width="0.6"/>
<line x1="312.2" y1="85.4" x2="315" y2="85.4" stroke="#555" stroke-width="0.6"/>
<line x1="312.2" y1="87.4" x2="315" y2="87.4" stroke="#555" stroke-width="0.6"/>
<line x1="311" y1="89.4" x2="315" y2="89.4" stroke="#555" stroke-width="0.6"/>
<line x1="312.2" y1="91.4" x2="315" y2="91.4" stroke="#555" stroke-width="0.6"/>
<polygon points="355.8,94.8 363,80.3 373,80.3 373,94.8" fill="#4a4a4a"/>
<line x1="362.0" y1="82.3" x2="373" y2="82.3" stroke="#9a9a9a" stroke-width="0.45"/>
<line x1="361.05" y1="84.2" x2="373" y2="84.2" stroke="#9a9a9a" stroke-width="0.45"/>
<line x1="360.1" y1="86.1" x2="373" y2="86.1" stroke="#9a9a9a" stroke-width="0.45"/>
<line x1="359.15" y1="88.0" x2="373" y2="88.0" stroke="#9a9a9a" stroke-width="0.45"/>
<line x1="358.2" y1="89.89999999999999" x2="373" y2="89.89999999999999" stroke="#9a9a9a" stroke-width="0.45"/>
<line x1="357.25" y1="91.8" x2="373" y2="91.8" stroke="#9a9a9a" stroke-width="0.45"/>
<line x1="356.3" y1="93.69999999999999" x2="373" y2="93.69999999999999" stroke="#9a9a9a" stroke-width="0.45"/>
<rect x="381" y="72.6" width="4.2" height="14.8" rx="0" fill="#e9e5e2" stroke="#404040" stroke-width="0.7" />
<rect x="385.2" y="71.8" width="23.9" height="16.4" rx="1.8" fill="#aaa8a6" stroke="#404040" stroke-width="1.0" />
<line x1="387.3" y1="72.5" x2="387.3" y2="87.5" stroke="#5a5a5a" stroke-width="0.75"/>
<line x1="389.3" y1="72.5" x2="389.3" y2="87.5" stroke="#5a5a5a" stroke-width="0.75"/>
<line x1="391.3" y1="72.5" x2="391.3" y2="87.5" stroke="#5a5a5a" stroke-width="0.75"/>
<line x1="393.3" y1="72.5" x2="393.3" y2="87.5" stroke="#5a5a5a" stroke-width="0.75"/>
<line x1="395.3" y1="72.5" x2="395.3" y2="87.5" stroke="#5a5a5a" stroke-width="0.75"/>
<line x1="397.3" y1="72.5" x2="397.3" y2="87.5" stroke="#5a5a5a" stroke-width="0.75"/>
<line x1="399.3" y1="72.5" x2="399.3" y2="87.5" stroke="#5a5a5a" stroke-width="0.75"/>
<line x1="401.3" y1="72.5" x2="401.3" y2="87.5" stroke="#5a5a5a" stroke-width="0.75"/>
<line x1="403.3" y1="72.5" x2="403.3" y2="87.5" stroke="#5a5a5a" stroke-width="0.75"/>
<line x1="405.3" y1="72.5" x2="405.3" y2="87.5" stroke="#5a5a5a" stroke-width="0.75"/>
<line x1="407.3" y1="72.5" x2="407.3" y2="87.5" stroke="#5a5a5a" stroke-width="0.75"/>
</g>
<g transform="translate(0,165)">
<line x1="303" y1="62.5" x2="474.6" y2="62.5" stroke="#555" stroke-width="0.75"/>
<line x1="409.5" y1="80.2" x2="474.6" y2="80.2" stroke="#3a3a3a" stroke-width="0.65" stroke-dasharray="42 2 2 2 100 0"/>
<path d="M429,72 L447.5,72 Q451,72 451,75.5 L451,84.5 Q451,88 447.5,88 L429,88" fill="none" stroke="#383838" stroke-width="0.9" stroke-linejoin="round" stroke-dasharray="3.2 1.7"/>
<line x1="471.7" y1="62.5" x2="471.7" y2="80.2" stroke="#555" stroke-width="0.75"/>
<polygon points="471.70,62.50 470.75,68.00 472.65,68.00" fill="#2a2a2a"/>
<polygon points="471.70,80.20 470.75,74.70 472.65,74.70" fill="#2a2a2a"/>
<text transform="translate(469,72.2) rotate(-90)" font-family='"Liberation Sans", "Noto Sans CJK SC", sans-serif' font-size="11.2" text-anchor="middle" textLength="15.6" lengthAdjust="spacingAndGlyphs" fill="#262626" >10.8</text>
<line x1="349" y1="65" x2="349" y2="117" stroke="#555" stroke-width="0.75"/>
<polygon points="349.00,65.00 348.05,70.50 349.95,70.50" fill="#2a2a2a"/>
<polygon points="349.00,95.00 348.05,89.50 349.95,89.50" fill="#2a2a2a"/>
<text transform="translate(347.6,108) rotate(-90)" font-family='"Liberation Sans", "Noto Sans CJK SC", sans-serif' font-size="11.2" text-anchor="middle" textLength="17" lengthAdjust="spacingAndGlyphs" fill="#262626" >ø18</text>
</g>
<line x1="152" y1="245.2" x2="224" y2="245.2" stroke="#333" stroke-width="0.6" stroke-dasharray="16 2 2 2"/>
<line x1="302" y1="245.2" x2="410" y2="245.2" stroke="#333" stroke-width="0.6" stroke-dasharray="30 2 2 2"/>
<line x1="189.3" y1="181" x2="189.3" y2="250" stroke="#555" stroke-width="0.75"/>
<line x1="192.4" y1="181" x2="192.4" y2="240" stroke="#555" stroke-width="0.75"/>
<line x1="304" y1="181" x2="304" y2="227" stroke="#555" stroke-width="0.75"/>
<line x1="409.5" y1="181" x2="409.5" y2="237" stroke="#555" stroke-width="0.75"/>
<path d="M145.1,180.2 L145.1,227 L148,232 L148,239" fill="none" stroke="#555" stroke-width="0.75" stroke-linejoin="round" />
<polygon points="148.00,240.00 147.05,235.50 148.95,235.50" fill="#2a2a2a"/>
<line x1="147.6" y1="181" x2="147.6" y2="229" stroke="#555" stroke-width="0.75"/>
<line x1="148" y1="250" x2="148" y2="257.5" stroke="#555" stroke-width="0.75"/>
<polygon points="148.00,250.00 147.05,254.50 148.95,254.50" fill="#2a2a2a"/>
<line x1="147.6" y1="184.6" x2="189.3" y2="184.6" stroke="#555" stroke-width="0.75"/>
<polygon points="147.60,184.60 153.10,183.65 153.10,185.55" fill="#2a2a2a"/>
<polygon points="189.30,184.60 183.80,183.65 183.80,185.55" fill="#2a2a2a"/>
<line x1="189" y1="184.6" x2="201" y2="184.6" stroke="#555" stroke-width="0.75"/>
<polygon points="192.40,184.60 197.90,183.65 197.90,185.55" fill="#2a2a2a"/>
<line x1="192.4" y1="184.6" x2="304" y2="184.6" stroke="#555" stroke-width="0.75"/>
<polygon points="304.00,184.60 298.50,183.65 298.50,185.55" fill="#2a2a2a"/>
<line x1="304" y1="184.6" x2="409.5" y2="184.6" stroke="#555" stroke-width="0.75"/>
<polygon points="304.00,184.60 309.50,183.65 309.50,185.55" fill="#2a2a2a"/>
<polygon points="409.50,184.60 404.00,183.65 404.00,185.55" fill="#2a2a2a"/>
<text x="169.5" y="182.2" font-family='"Liberation Sans", "Noto Sans CJK SC", sans-serif' font-size="11.2" text-anchor="middle" textLength="10.2" lengthAdjust="spacingAndGlyphs" fill="#262626" >25</text>
<text x="191.8" y="182.2" font-family='"Liberation Sans", "Noto Sans CJK SC", sans-serif' font-size="11.2" text-anchor="middle" textLength="17.6" lengthAdjust="spacingAndGlyphs" fill="#262626" >2.05</text>
<text x="248.3" y="182.2" font-family='"Liberation Sans", "Noto Sans CJK SC", sans-serif' font-size="11.2" text-anchor="middle" textLength="18" lengthAdjust="spacingAndGlyphs" fill="#262626" >66.5</text>
<text x="359" y="182.2" font-family='"Liberation Sans", "Noto Sans CJK SC", sans-serif' font-size="11.2" text-anchor="middle" textLength="18.2" lengthAdjust="spacingAndGlyphs" fill="#262626" >62.9</text>
<text transform="translate(141.2,232) rotate(-90)" font-family='"Liberation Sans", "Noto Sans CJK SC", sans-serif' font-size="11.2" text-anchor="start" textLength="18.3" lengthAdjust="spacingAndGlyphs" fill="#262626" >ø6.3</text>
<text transform="translate(140.8,213.2) rotate(-90)" font-family='"Liberation Sans", "Noto Sans CJK SC", sans-serif' font-size="8.8" text-anchor="start" textLength="33.5" lengthAdjust="spacingAndGlyphs" fill="#262626" >(测量面)</text>
<text transform="translate(174.4,238.2) rotate(-90)" font-family='"Liberation Sans", "Noto Sans CJK SC", sans-serif' font-size="11.2" text-anchor="start" textLength="24" lengthAdjust="spacingAndGlyphs" fill="#262626" >ø6.35</text>
<line x1="175.9" y1="214" x2="175.9" y2="240" stroke="#555" stroke-width="0.75"/>
<polygon points="175.90,240.00 174.95,235.50 176.85,235.50" fill="#2a2a2a"/>
<line x1="175.9" y1="250" x2="175.9" y2="259.5" stroke="#555" stroke-width="0.75"/>
<polygon points="175.90,250.00 174.95,254.50 176.85,254.50" fill="#2a2a2a"/>
<rect x="177" y="186.5" width="11.4" height="52.7" rx="3" fill="#fff" stroke="#aaa" stroke-width="0.5" />
<text transform="translate(185.8,237.7) rotate(-90)" font-family='"Liberation Sans", "Noto Sans CJK SC", sans-serif' font-size="9" text-anchor="start" textLength="50" lengthAdjust="spacingAndGlyphs" fill="#262626" >(测微螺杆直径)</text>
<line x1="121" y1="245" x2="141" y2="245" stroke="#555" stroke-width="0.75"/>
<line x1="121" y1="284.2" x2="130" y2="284.2" stroke="#555" stroke-width="0.75"/>
<line x1="125" y1="245" x2="125" y2="284.2" stroke="#555" stroke-width="0.75"/>
<polygon points="125.00,245.00 124.05,250.50 125.95,250.50" fill="#2a2a2a"/>
<polygon points="125.00,284.20 124.05,278.70 125.95,278.70" fill="#2a2a2a"/>
<text transform="translate(123.4,264.6) rotate(-90)" font-family='"Liberation Sans", "Noto Sans CJK SC", sans-serif' font-size="11.2" text-anchor="middle" textLength="10.6" lengthAdjust="spacingAndGlyphs" fill="#262626" >23</text>
<text x="326" y="298.8" font-family='"Liberation Sans", "Noto Sans CJK SC", sans-serif' font-size="11" text-anchor="start" font-weight="bold" textLength="50" lengthAdjust="spacingAndGlyphs" fill="#1a1a1a" stroke="#1a1a1a" stroke-width="0.25">395-263-30</text>
<text x="326" y="311.2" font-family='"Liberation Sans", "Noto Sans CJK SC", sans-serif' font-size="11" text-anchor="start" font-weight="bold" textLength="56.5" lengthAdjust="spacingAndGlyphs" fill="#1a1a1a" stroke="#1a1a1a" stroke-width="0.25">BMB3-25MX</text>
<path d="M166.50,381.20 C166.23,381.50 165.62,381.37 164.90,383.00 C164.18,384.63 163.08,388.25 162.20,391.00 C161.32,393.75 160.40,396.50 159.60,399.50 C158.80,402.50 157.93,405.98 157.40,409.00 C156.87,412.02 156.52,415.27 156.40,417.60 C156.28,419.93 156.43,421.48 156.70,423.00 C156.97,424.52 157.33,424.75 158.00,426.70 C158.67,428.65 159.37,432.03 160.70,434.70 C162.03,437.37 164.00,440.27 166.00,442.70 C168.00,445.13 170.25,447.20 172.70,449.30 C175.15,451.40 177.82,453.63 180.70,455.30 C183.58,456.97 186.23,458.07 190.00,459.30 C193.77,460.53 198.85,461.87 203.30,462.70 C207.75,463.53 212.25,463.95 216.70,464.30 C221.15,464.65 226.62,464.78 230.00,464.80 C233.38,464.82 233.83,464.75 237.00,464.40 C240.17,464.05 245.00,463.50 249.00,462.70 C253.00,461.90 257.22,460.83 261.00,459.60 C264.78,458.37 268.37,457.02 271.70,455.30 C275.03,453.58 278.33,451.30 281.00,449.30 C283.67,447.30 285.70,445.52 287.70,443.30 C289.70,441.08 291.57,438.55 293.00,436.00 C294.43,433.45 295.53,430.67 296.30,428.00 C297.07,425.33 297.42,422.33 297.60,420.00 C297.78,417.67 297.53,415.68 297.40,414.00 C297.27,412.32 297.17,412.00 296.80,409.90 C296.43,407.80 295.55,404.05 295.20,401.40 C294.85,398.75 294.62,396.13 294.70,394.00 C294.78,391.87 295.17,390.23 295.70,388.60 C296.23,386.97 297.53,384.93 297.90,384.20 L297.9,359.3 L272.9,359.3 L272.9,384.2 C272.90,386.35 273.00,393.70 272.90,397.10 C272.80,400.50 272.75,402.28 272.30,404.60 C271.85,406.92 271.25,408.87 270.20,411.00 C269.15,413.13 267.60,415.63 266.00,417.40 C264.40,419.17 262.55,420.43 260.60,421.60 C258.65,422.77 256.40,423.70 254.30,424.40 C252.20,425.10 250.67,425.38 248.00,425.80 C245.33,426.22 241.63,426.70 238.30,426.90 C234.97,427.10 232.05,427.03 228.00,427.00 C223.95,426.97 218.12,426.98 214.00,426.70 C209.88,426.42 206.27,425.88 203.30,425.30 C200.33,424.72 198.17,423.95 196.20,423.20 C194.23,422.45 193.00,421.92 191.50,420.80 C190.00,419.68 188.45,418.28 187.20,416.50 C185.95,414.72 184.88,412.40 184.00,410.10 C183.12,407.80 182.37,405.37 181.90,402.70 C181.43,400.03 181.37,397.68 181.20,394.10 C181.03,390.52 180.95,383.35 180.90,381.20 Z" fill="#e9e5e2" stroke="#404040" stroke-width="0.9" stroke-linejoin="round" />
<polygon points="171.3,381.2 172.3,379.8 179.3,379.8 180.3,381.2" fill="#cfcbc8" stroke="#404040" stroke-width="0.6"/>
<line x1="272.9" y1="384.2" x2="297.9" y2="384.2" stroke="#404040" stroke-width="0.7"/>
<rect x="174.5" y="366" width="2.6" height="14" rx="0" fill="#d9d5d2" stroke="#404040" stroke-width="0.8" />
<line x1="176" y1="361.5" x2="176" y2="390" stroke="#4a4a4a" stroke-width="0.6"/>
<rect x="218.6" y="366.4" width="54.4" height="11.1" rx="0" fill="#e9e5e2" stroke="#404040" stroke-width="0.8" />
<line x1="220.4" y1="366.4" x2="220.4" y2="377.5" stroke="#404040" stroke-width="0.5"/>
<line x1="261" y1="366.4" x2="261" y2="377.5" stroke="#404040" stroke-width="0.5"/>
<circle cx="285.2" cy="372" r="7.1" fill="#e9e5e2" stroke="#404040" stroke-width="0.9"/>
<path d="M280.6,376.5 C281.5,381 282.6,387 283.4,391 Q285.2,395.5 287,391 C287.8,387 288.9,381 289.8,376.5 Z" fill="#e9e5e2" stroke="#404040" stroke-width="0.9" stroke-linejoin="round" />
<circle cx="285.2" cy="372" r="4.3" fill="#e9e5e2" stroke="#404040" stroke-width="0.9"/>
<circle cx="285.2" cy="372" r="1.7" fill="#888" stroke="#404040" stroke-width="0.7"/>
<rect x="297.9" y="360.5" width="4.1" height="22.5" rx="0" fill="#e9e5e2" stroke="#404040" stroke-width="0.8" />
<path d="M302,360.3 C306,358.6 310,357.7 313.3,357.5 L342.2,357.2 L342.2,386.8 L313.3,386.5 C310,386.3 306,385.4 302,383.7 Z" fill="#e9e5e2" stroke="#2e2e2e" stroke-width="1.1" stroke-linejoin="round" />
<line x1="313.3" y1="357.5" x2="313.3" y2="386.5" stroke="#4a4a4a" stroke-width="0.6"/>
<line x1="303.2" y1="362" x2="307" y2="362" stroke="#555" stroke-width="0.6"/>
<line x1="304.2" y1="364" x2="307" y2="364" stroke="#555" stroke-width="0.6"/>
<line x1="304.2" y1="366" x2="307" y2="366" stroke="#555" stroke-width="0.6"/>
<line x1="304.2" y1="368" x2="307" y2="368" stroke="#555" stroke-width="0.6"/>
<line x1="304.2" y1="370" x2="307" y2="370" stroke="#555" stroke-width="0.6"/>
<line x1="303.2" y1="372" x2="307" y2="372" stroke="#555" stroke-width="0.6"/>
<line x1="304.2" y1="374" x2="307" y2="374" stroke="#555" stroke-width="0.6"/>
<line x1="304.2" y1="376" x2="307" y2="376" stroke="#555" stroke-width="0.6"/>
<line x1="304.2" y1="378" x2="307" y2="378" stroke="#555" stroke-width="0.6"/>
<line x1="304.2" y1="380" x2="307" y2="380" stroke="#555" stroke-width="0.6"/>
<line x1="303.2" y1="382" x2="307" y2="382" stroke="#555" stroke-width="0.6"/>
<rect x="342.2" y="356.8" width="37.8" height="30.4" rx="2" fill="#e9e5e2" stroke="#2e2e2e" stroke-width="1.1" />
<defs><pattern id="xh" width="3.2" height="3.2" patternUnits="userSpaceOnUse" patternTransform="rotate(45)"><rect width="3.2" height="3.2" fill="#e9e5e2"/><path d="M0,0 L3.2,0 M0,0 L0,3.2" stroke="#444" stroke-width="0.9"/></pattern></defs>
<path d="M380,372 L368,372 C365,375 364,381 365,386.7 L380,386.7 Z" fill="url(#xh)" stroke="none"/>
<rect x="380" y="365.5" width="6.8" height="13" rx="0" fill="#e9e5e2" stroke="#404040" stroke-width="0.7" />
<rect x="386.6" y="364" width="22.4" height="16" rx="1.8" fill="#aaa8a6" stroke="#404040" stroke-width="1.0" />
<line x1="388.6" y1="364.6" x2="388.6" y2="379.4" stroke="#5a5a5a" stroke-width="0.75"/>
<line x1="390.47" y1="364.6" x2="390.47" y2="379.4" stroke="#5a5a5a" stroke-width="0.75"/>
<line x1="392.34000000000003" y1="364.6" x2="392.34000000000003" y2="379.4" stroke="#5a5a5a" stroke-width="0.75"/>
<line x1="394.21000000000004" y1="364.6" x2="394.21000000000004" y2="379.4" stroke="#5a5a5a" stroke-width="0.75"/>
<line x1="396.08000000000004" y1="364.6" x2="396.08000000000004" y2="379.4" stroke="#5a5a5a" stroke-width="0.75"/>
<line x1="397.95000000000005" y1="364.6" x2="397.95000000000005" y2="379.4" stroke="#5a5a5a" stroke-width="0.75"/>
<line x1="399.82000000000005" y1="364.6" x2="399.82000000000005" y2="379.4" stroke="#5a5a5a" stroke-width="0.75"/>
<line x1="401.69" y1="364.6" x2="401.69" y2="379.4" stroke="#5a5a5a" stroke-width="0.75"/>
<line x1="403.56" y1="364.6" x2="403.56" y2="379.4" stroke="#5a5a5a" stroke-width="0.75"/>
<line x1="405.43" y1="364.6" x2="405.43" y2="379.4" stroke="#5a5a5a" stroke-width="0.75"/>
<line x1="407.3" y1="364.6" x2="407.3" y2="379.4" stroke="#5a5a5a" stroke-width="0.75"/>
<path d="M428,364 L447.5,364 Q451,364 451,367.5 L451,376.5 Q451,380 447.5,380 L428,380" fill="none" stroke="#383838" stroke-width="0.9" stroke-linejoin="round" stroke-dasharray="3.2 1.7"/>
<line x1="144" y1="372" x2="219" y2="372" stroke="#4a4a4a" stroke-width="0.6"/>
<line x1="219" y1="372" x2="455" y2="372" stroke="#333" stroke-width="0.6" stroke-dasharray="30 2 2 2"/>
<line x1="177.3" y1="343" x2="177.3" y2="366" stroke="#4a4a4a" stroke-width="0.6"/>
<line x1="218.6" y1="343" x2="218.6" y2="378" stroke="#4a4a4a" stroke-width="0.6"/>
<line x1="261" y1="343" x2="261" y2="366" stroke="#4a4a4a" stroke-width="0.6"/>
<line x1="272.6" y1="343" x2="272.6" y2="359" stroke="#4a4a4a" stroke-width="0.6"/>
<line x1="297" y1="343" x2="297" y2="359" stroke="#4a4a4a" stroke-width="0.6"/>
<line x1="409" y1="343" x2="409" y2="364" stroke="#4a4a4a" stroke-width="0.6"/>
<line x1="177.3" y1="346.4" x2="218.6" y2="346.4" stroke="#4a4a4a" stroke-width="0.6"/>
<polygon points="177.30,346.40 182.80,345.45 182.80,347.35" fill="#2a2a2a"/>
<polygon points="218.60,346.40 213.10,345.45 213.10,347.35" fill="#2a2a2a"/>
<line x1="218.6" y1="346.4" x2="261" y2="346.4" stroke="#4a4a4a" stroke-width="0.6"/>
<polygon points="218.60,346.40 224.10,345.45 224.10,347.35" fill="#2a2a2a"/>
<polygon points="261.00,346.40 255.50,345.45 255.50,347.35" fill="#2a2a2a"/>
<line x1="261" y1="346.4" x2="272.6" y2="346.4" stroke="#4a4a4a" stroke-width="0.6"/>
<polygon points="261.00,346.40 266.50,345.45 266.50,347.35" fill="#2a2a2a"/>
<line x1="272.6" y1="346.4" x2="297" y2="346.4" stroke="#4a4a4a" stroke-width="0.6"/>
<polygon points="272.60,346.40 278.10,345.45 278.10,347.35" fill="#2a2a2a"/>
<polygon points="297.00,346.40 291.50,345.45 291.50,347.35" fill="#2a2a2a"/>
<line x1="297" y1="346.4" x2="409" y2="346.4" stroke="#4a4a4a" stroke-width="0.6"/>
<polygon points="297.00,346.40 302.50,345.45 302.50,347.35" fill="#2a2a2a"/>
<polygon points="409.00,346.40 403.50,345.45 403.50,347.35" fill="#2a2a2a"/>
<text x="199.5" y="343.7" font-family='"Liberation Sans", "Noto Sans CJK SC", sans-serif' font-size="11.2" text-anchor="middle" textLength="11" lengthAdjust="spacingAndGlyphs" fill="#262626" >25</text>
<text x="241" y="343.7" font-family='"Liberation Sans", "Noto Sans CJK SC", sans-serif' font-size="11.2" text-anchor="middle" textLength="11" lengthAdjust="spacingAndGlyphs" fill="#262626" >25</text>
<text x="267" y="343.7" font-family='"Liberation Sans", "Noto Sans CJK SC", sans-serif' font-size="11.2" text-anchor="middle" textLength="13" lengthAdjust="spacingAndGlyphs" fill="#262626" >6.8</text>
<text x="284.5" y="343.7" font-family='"Liberation Sans", "Noto Sans CJK SC", sans-serif' font-size="11.2" text-anchor="middle" textLength="9.4" lengthAdjust="spacingAndGlyphs" fill="#262626" >15</text>
<text x="356" y="343.7" font-family='"Liberation Sans", "Noto Sans CJK SC", sans-serif' font-size="11.2" text-anchor="middle" textLength="19.5" lengthAdjust="spacingAndGlyphs" fill="#262626" >66.9</text>
<line x1="356" y1="357" x2="356" y2="408.5" stroke="#4a4a4a" stroke-width="0.6"/>
<polygon points="356.00,357.00 355.05,362.50 356.95,362.50" fill="#2a2a2a"/>
<polygon points="356.00,387.00 355.05,381.50 356.95,381.50" fill="#2a2a2a"/>
<text transform="translate(354.3,400.5) rotate(-90)" font-family='"Liberation Sans", "Noto Sans CJK SC", sans-serif' font-size="11.2" text-anchor="middle" textLength="16" lengthAdjust="spacingAndGlyphs" fill="#262626" >ø18</text>
<line x1="201" y1="366.3" x2="219" y2="366.3" stroke="#4a4a4a" stroke-width="0.6"/>
<line x1="201" y1="377.6" x2="219" y2="377.6" stroke="#4a4a4a" stroke-width="0.6"/>
<line x1="204" y1="355" x2="204" y2="366.3" stroke="#4a4a4a" stroke-width="0.6"/>
<polygon points="204.00,366.30 203.05,362.80 204.95,362.80" fill="#2a2a2a"/>
<line x1="204" y1="377.6" x2="204" y2="409" stroke="#4a4a4a" stroke-width="0.6"/>
<polygon points="204.00,377.60 203.05,381.10 204.95,381.10" fill="#2a2a2a"/>
<text transform="translate(201.4,408.5) rotate(-90)" font-family='"Liberation Sans", "Noto Sans CJK SC", sans-serif' font-size="11.2" text-anchor="start" textLength="18.5" lengthAdjust="spacingAndGlyphs" fill="#262626" >ø6.3</text>
<text transform="translate(213.8,418) rotate(-90)" font-family='"Liberation Sans", "Noto Sans CJK SC", sans-serif' font-size="9" text-anchor="start" textLength="34.5" lengthAdjust="spacingAndGlyphs" fill="#262626" >(测量面)</text>
<line x1="239.5" y1="355" x2="239.5" y2="366.3" stroke="#4a4a4a" stroke-width="0.6"/>
<polygon points="239.50,366.30 238.55,362.80 240.45,362.80" fill="#2a2a2a"/>
<line x1="239.5" y1="377.6" x2="239.5" y2="425" stroke="#4a4a4a" stroke-width="0.6"/>
<polygon points="239.50,377.60 238.55,381.10 240.45,381.10" fill="#2a2a2a"/>
<text transform="translate(236.6,424.5) rotate(-90)" font-family='"Liberation Sans", "Noto Sans CJK SC", sans-serif' font-size="11.2" text-anchor="start" textLength="25.5" lengthAdjust="spacingAndGlyphs" fill="#262626" >ø6.35</text>
<text transform="translate(249.6,424.5) rotate(-90)" font-family='"Liberation Sans", "Noto Sans CJK SC", sans-serif' font-size="9" text-anchor="start" textLength="43" lengthAdjust="spacingAndGlyphs" fill="#262626" >(测微螺杆直径)</text>
<line x1="144" y1="426.4" x2="205" y2="426.4" stroke="#4a4a4a" stroke-width="0.6"/>
<line x1="147.2" y1="372" x2="147.2" y2="426.4" stroke="#4a4a4a" stroke-width="0.6"/>
<polygon points="147.20,372.00 146.25,377.50 148.15,377.50" fill="#2a2a2a"/>
<polygon points="147.20,426.40 146.25,420.90 148.15,420.90" fill="#2a2a2a"/>
<text transform="translate(145.2,399.4) rotate(-90)" font-family='"Liberation Sans", "Noto Sans CJK SC", sans-serif' font-size="11.2" text-anchor="middle" textLength="18.3" lengthAdjust="spacingAndGlyphs" fill="#262626" >32.5</text>
<text x="370" y="414" font-family='"Liberation Sans", "Noto Sans CJK SC", sans-serif' font-size="12.6" text-anchor="start" font-weight="bold" textLength="39" lengthAdjust="spacingAndGlyphs" fill="#1a1a1a" stroke="#1a1a1a" stroke-width="0.25">115-303</text>
<text x="370" y="428" font-family='"Liberation Sans", "Noto Sans CJK SC", sans-serif' font-size="12.6" text-anchor="start" font-weight="bold" textLength="44" lengthAdjust="spacingAndGlyphs" fill="#1a1a1a" stroke="#1a1a1a" stroke-width="0.25">BMB1-50</text>
</g>
</svg>
</body></html>
